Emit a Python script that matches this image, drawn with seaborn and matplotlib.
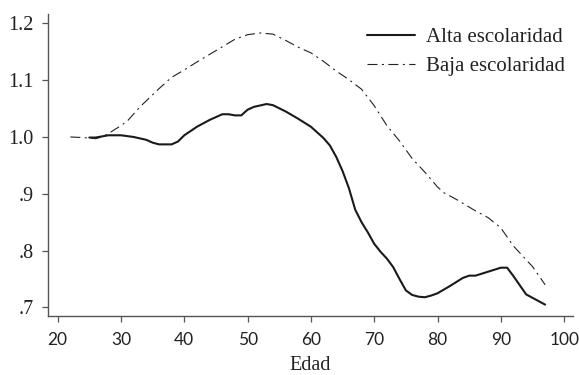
import matplotlib
matplotlib.use("Agg")
import matplotlib.pyplot as plt
import seaborn as sns
import pandas as pd

alta_age = [25, 26, 28, 30, 32, 34, 35, 36, 38, 39, 40, 42, 44, 46, 47, 48, 49, 50, 51, 53,
            54, 56, 58, 60, 61, 62, 63, 64, 65, 66, 67, 68, 69, 70, 71, 72, 73, 74, 75, 76,
            77, 78, 79, 80, 82, 84, 85, 86, 88, 90, 91, 92, 94, 97]
alta_val = [0.999, 0.999, 1.003, 1.003, 1.000, 0.995, 0.990, 0.987, 0.987, 0.992, 1.003, 1.018,
            1.030, 1.040, 1.040, 1.038, 1.038, 1.048, 1.053, 1.058, 1.056, 1.045, 1.032, 1.018,
            1.008, 0.998, 0.985, 0.965, 0.940, 0.910, 0.872, 0.850, 0.832, 0.812, 0.798, 0.786,
            0.771, 0.750, 0.730, 0.722, 0.719, 0.718, 0.721, 0.725, 0.738, 0.752, 0.756, 0.756,
            0.763, 0.770, 0.770, 0.755, 0.723, 0.705]

baja_age = [22, 24, 26, 27, 28, 30, 31, 33, 36, 38, 40, 42, 45, 48, 50, 52, 54, 56, 58, 60,
            62, 64, 66, 68, 70, 72, 74, 76, 78, 80, 81, 83, 86, 88, 90, 92, 95, 97]
baja_val = [1.000, 0.999, 0.997, 1.000, 1.006, 1.020, 1.028, 1.053, 1.085, 1.105, 1.118, 1.132,
            1.152, 1.172, 1.180, 1.183, 1.181, 1.170, 1.158, 1.148, 1.133, 1.116, 1.101, 1.084,
            1.055, 1.020, 0.993, 0.962, 0.938, 0.912, 0.902, 0.890, 0.870, 0.858, 0.840, 0.808,
            0.772, 0.740]

series_labels = ["Alta escolaridad", "Baja escolaridad"]
x_ticks = [20, 30, 40, 50, 60, 70, 80, 90, 100]
y_ticks = [0.7, 0.8, 0.9, 1.0, 1.1, 1.2]
y_tick_labels = [".7", ".8", ".9", "1.0", "1.1", "1.2"]
x_label = "Edad"

sns.set_style("ticks")
plt.rcParams["font.family"] = ["Liberation Serif", "DejaVu Serif"]

fig = plt.figure(figsize=(5.79, 3.75), dpi=100)
ax = fig.add_axes([48 / 579, 1 - 316 / 375, (573 - 48) / 579, (316 - 14) / 375])

df_a = pd.DataFrame({"Edad": alta_age, "v": alta_val})
df_b = pd.DataFrame({"Edad": baja_age, "v": baja_val})

sns.lineplot(data=df_a, x="Edad", y="v", ax=ax, color="#1a1a1a", linewidth=1.5,
             label=series_labels[0])
sns.lineplot(data=df_b, x="Edad", y="v", ax=ax, color="#222222", linewidth=0.8,
             dashes=False, label=series_labels[1])
ax.lines[1].set_dashes((9, 4, 1.8, 4))

ax.set_xlim(18.47, 101.4)
ax.set_ylim(0.685, 1.2164)
ax.set_xticks(x_ticks)
ax.set_xticklabels([str(t) for t in x_ticks], family="Lato", fontsize=12.5, color="#222222")
ax.set_yticks(y_ticks)
ax.set_yticklabels(y_tick_labels, fontsize=14.5, color="#222222")
ax.set_xlabel(x_label, fontsize=14.5, color="#222222", labelpad=6)
ax.set_ylabel("")

for s in ["top", "right"]:
    ax.spines[s].set_visible(False)
for s in ["left", "bottom"]:
    ax.spines[s].set_color("#555555")
    ax.spines[s].set_linewidth(1.0)
ax.tick_params(axis="both", direction="out", length=4.5, width=0.9, color="#555555")
ax.tick_params(axis="y", pad=6)
ax.tick_params(axis="x", pad=7)

leg = ax.legend(loc="upper right", bbox_to_anchor=(1.0, 0.983), frameon=False,
                fontsize=15, handlelength=2.3, handletextpad=0.5, labelspacing=0.45,
                borderaxespad=0.0)
for t in leg.get_texts():
    t.set_color("#222222")

fig.savefig("out.png", dpi=100)
